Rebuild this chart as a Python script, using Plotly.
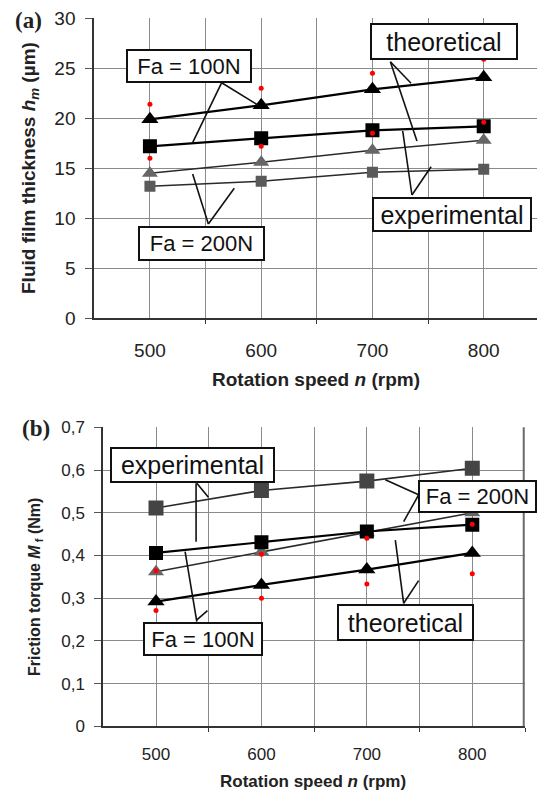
import plotly.graph_objects as go

W, H = 537, 790

# ---------------- data ----------------
speeds = [500, 600, 700, 800]

# (a) fluid film thickness h_m (um)
hm_theo_100 = [19.9, 21.3, 22.9, 24.1]
hm_exp_100 = [17.2, 18.0, 18.8, 19.2]
hm_theo_200 = [14.5, 15.6, 16.8, 17.8]
hm_exp_200 = [13.2, 13.7, 14.6, 14.9]
hm_red_upper = [21.4, 23.0, 24.5, 25.9]
hm_red_lower = [16.0, 17.2, 18.5, 19.6]

# (b) friction torque M_f (Nm)
mf_exp_200 = [0.511, 0.552, 0.574, 0.604]
mf_exp_100 = [0.406, 0.431, 0.456, 0.472]
mf_theo_200 = [0.362, 0.408, 0.453, 0.500]
mf_theo_100 = [0.292, 0.331, 0.367, 0.406]
mf_red_upper = [0.364, 0.403, 0.440, 0.473]
mf_red_lower = [0.271, 0.300, 0.333, 0.357]

x_ticks = [500, 600, 700, 800]
x_minor = [550, 650, 750, 850]
hm_ticks = [0, 5, 10, 15, 20, 25, 30]
mf_ticks = [0, 0.1, 0.2, 0.3, 0.4, 0.5, 0.6, 0.7]
mf_ticktext = ["0", "0,1", "0,2", "0,3", "0,4", "0,5", "0,6", "0,7"]

# label boxes: (text, x, y, width px, height px, font size)
labels_a = [
    ("Fa = 100N", 535.0, 25.28, 126, 34, 22),
    ("theoretical", 764.2, 27.66, 148, 37, 25),
    ("experimental", 771.2, 10.41, 160, 35, 25),
    ("Fa = 200N", 546.5, 7.48, 127, 35, 22),
]
labels_b = [
    ("experimental", 534.7, 0.6126, 165, 36, 25),
    ("Fa = 100N", 545.0, 0.2047, 120, 34, 22),
    ("Fa = 200N", 805.4, 0.5377, 119, 33, 22),
    ("theoretical", 736.9, 0.2433, 137, 37, 25),
]
# leader lines: (x0, y0, x1, y1)
leaders_a = [
    (564.5, 23.56, 538.4, 17.56), (564.5, 23.56, 596.9, 21.33),
    (716.1, 25.66, 734.7, 23.5), (716.1, 25.66, 740.0, 17.73),
    (735.5, 12.33, 727.2, 18.73), (735.5, 12.33, 752.7, 15.16),
    (552.5, 9.43, 538.4, 14.43), (552.5, 9.43, 575.8, 13.0),
]
leaders_b = [
    (538.0, 0.569, 538.0, 0.432), (538.7, 0.569, 549.7, 0.536),
    (538.7, 0.245, 527.6, 0.409), (538.7, 0.249, 548.8, 0.271),
    (749.1, 0.542, 717.5, 0.577), (749.1, 0.542, 734.9, 0.479),
    (734.9, 0.288, 727.0, 0.436), (734.9, 0.288, 749.1, 0.341),
]

FONT = "Liberation Sans, Arial, sans-serif"
SERIF = "Liberation Serif, Times New Roman, serif"
BLACK = "#000000"
GRAY = "#5a5a5a"
DGRAY = "#444444"
GRID = "#8a8a8a"
AXIS = "#333333"

fig = go.Figure()


def add_series(x, y, xa, ya, color, symbol, size, lw, lcolor):
    fig.add_trace(go.Scatter(
        x=x, y=y, xaxis=xa, yaxis=ya, mode="lines+markers",
        line=dict(color=lcolor, width=lw),
        marker=dict(symbol=symbol, size=size, color=color),
        showlegend=False, hoverinfo="skip"))


def add_red(x, y, xa, ya):
    fig.add_trace(go.Scatter(
        x=x, y=y, xaxis=xa, yaxis=ya, mode="markers",
        marker=dict(symbol="circle", size=5, color="#ff0000"),
        showlegend=False, hoverinfo="skip"))


# panel (a)
add_series(speeds, hm_exp_200, "x", "y", GRAY, "square", 11, 1.6, "#2a2a2a")
add_series(speeds, hm_theo_200, "x", "y", "#666666", "triangle-up", 14, 1.6, "#2a2a2a")
add_series(speeds, hm_exp_100, "x", "y", BLACK, "square", 14, 2.2, BLACK)
add_series(speeds, hm_theo_100, "x", "y", BLACK, "triangle-up", 15, 2.2, BLACK)
add_red(speeds, hm_red_upper, "x", "y")
add_red(speeds, hm_red_lower, "x", "y")

# panel (b)
add_series(speeds, mf_exp_200, "x2", "y2", DGRAY, "square", 15, 1.6, "#2a2a2a")
add_series(speeds, mf_theo_200, "x2", "y2", "#666666", "triangle-up", 14, 1.6, "#2a2a2a")
add_series(speeds, mf_exp_100, "x2", "y2", BLACK, "square", 14, 2.2, BLACK)
add_series(speeds, mf_theo_100, "x2", "y2", BLACK, "triangle-up", 15, 2.2, BLACK)
add_red(speeds, mf_red_upper, "x2", "y2")
add_red(speeds, mf_red_lower, "x2", "y2")

shapes = [
    # right frame of panel (b)
    dict(type="line", xref="x2 domain", yref="y2 domain", x0=0.997, x1=0.997, y0=0, y1=1,
         line=dict(color="#6a6a6a", width=2), layer="above"),
]
for (x0, y0, x1, y1) in leaders_a:
    shapes.append(dict(type="line", xref="x", yref="y", x0=x0, y0=y0, x1=x1, y1=y1,
                       line=dict(color="#111111", width=1.6), layer="above"))
for (x0, y0, x1, y1) in leaders_b:
    shapes.append(dict(type="line", xref="x2", yref="y2", x0=x0, y0=y0, x1=x1, y1=y1,
                       line=dict(color="#111111", width=1.6), layer="above"))

annotations = []
for (t, x, y, w, h, fs) in labels_a:
    annotations.append(dict(text=t, x=x, y=y, xref="x", yref="y", showarrow=False,
                            xanchor="center", yanchor="middle", width=w - 4, height=h - 4,
                            borderpad=0, borderwidth=2, bordercolor="#111111",
                            bgcolor="white", font=dict(family=FONT, size=fs, color="#111111")))
for (t, x, y, w, h, fs) in labels_b:
    annotations.append(dict(text=t, x=x, y=y, xref="x2", yref="y2", showarrow=False,
                            xanchor="center", yanchor="middle", width=w - 4, height=h - 4,
                            borderpad=0, borderwidth=2, bordercolor="#111111",
                            bgcolor="white", font=dict(family=FONT, size=fs, color="#111111")))

# titles and panel letters (positions given in figure pixels, converted below)
titles = [
    ("<b>(a)</b>", 28, 20, 0, SERIF, 23),
    ("<b>(b)</b>", 36, 428, 0, SERIF, 23),
    ("<b>Fluid film thickness <i>h<sub>m</sub></i> (µm)</b>", 30, 168, -90, FONT, 19),
    ("<b>Rotation speed <i>n</i> (rpm)</b>", 316, 379, 0, FONT, 19),
    ("<b>Friction torque <i>M</i><sub> f</sub> (Nm)</b>", 35, 587, -90, FONT, 16),
    ("<b>Rotation speed <i>n</i> (rpm)</b>", 313, 781, 0, FONT, 17),
]
for (t, px, py, ang, fam, fs) in titles:
    annotations.append(dict(text=t, x=px / W, y=1 - py / H, xref="paper", yref="paper",
                            showarrow=False, textangle=ang, xanchor="center",
                            yanchor="middle",
                            font=dict(family=fam, size=fs, color="#222222")))


def xaxis(domain, rng, minor_vals, anchor, fs, standoff):
    return dict(domain=domain, range=rng, anchor=anchor, automargin=False,
                tickmode="array", tickvals=x_ticks, ticks="",
                showgrid=True, gridcolor=GRID, gridwidth=1,
                minor=dict(tickmode="array", tickvals=minor_vals, ticks="outside",
                           ticklen=4, tickcolor=AXIS, showgrid=True,
                           gridcolor=GRID, gridwidth=1),
                showline=True, linecolor=AXIS, linewidth=2, zeroline=False,
                tickfont=dict(family=FONT, size=fs, color="#222222"),
                ticklabelstandoff=standoff, fixedrange=True)


def yaxis(domain, rng, vals, text, anchor, fs):
    return dict(domain=domain, range=rng, anchor=anchor, automargin=False,
                tickmode="array", tickvals=vals, ticktext=text,
                ticks="outside", ticklen=7, tickcolor="#555555",
                showgrid=True, gridcolor=GRID, gridwidth=1,
                showline=True, linecolor=AXIS, linewidth=2, zeroline=False,
                tickfont=dict(family=FONT, size=fs, color="#222222"),
                ticklabelstandoff=6, fixedrange=True)


top_x0, top_x1, top_y0, top_y1 = 94.3, 537.0, 18.3, 318.3
bot_x0, bot_x1, bot_y0, bot_y1 = 103.3, 525.0, 427.3, 726.3

fig.update_layout(
    width=W, height=H,
    margin=dict(l=0, r=0, t=0, b=0, autoexpand=False),
    paper_bgcolor="white", plot_bgcolor="white",
    xaxis=xaxis([top_x0 / W, top_x1 / W], [450, 847.9], x_minor, "y", 19, 14),
    yaxis=yaxis([1 - top_y1 / H, 1 - top_y0 / H], [0, 30], hm_ticks,
                [str(v) for v in hm_ticks], "x", 19),
    xaxis2=xaxis([bot_x0 / W, bot_x1 / W], [450, 850], x_minor, "y2", 17, 11),
    yaxis2=yaxis([1 - bot_y1 / H, 1 - bot_y0 / H], [0, 0.7], mf_ticks, mf_ticktext, "x2", 17),
    shapes=shapes,
    annotations=annotations,
    showlegend=False,
)

fig.write_html(
    "out.html",
    config={"displayModeBar": False},
    post_script="document.body.style.margin='0px';document.body.style.overflow='hidden';",
)
